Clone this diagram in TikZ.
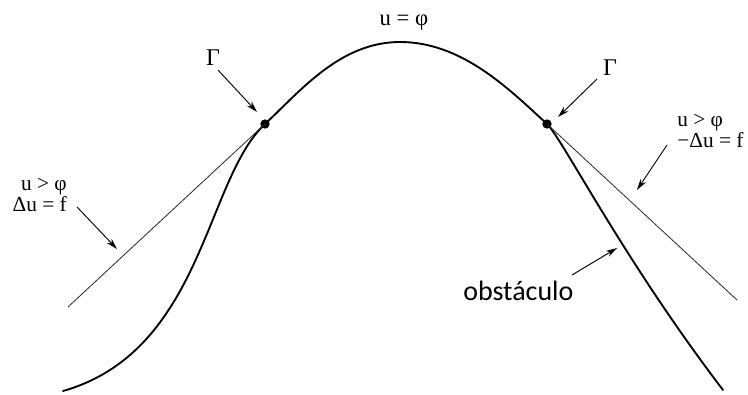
\documentclass[tikz,border=0pt]{standalone}
\usepackage{fontspec}
\setmainfont{Liberation Serif}
\newfontfamily\obsfont{Carlito}
\usetikzlibrary{arrows.meta}
\tikzset{
  obscurve/.style = {line width=1.4pt, line cap=round},
  tangline/.style = {line width=0.6pt, black!85},
  pointer/.style  = {-{Stealth[length=8.5pt,width=4.8pt]}, line width=0.7pt},
  gdot/.style     = {circle, fill=black, inner sep=0pt, minimum size=7pt},
  glab/.style     = {inner sep=0pt, font=\fontsize{18}{20}\selectfont},
  toplab/.style   = {inner sep=0pt, font=\fontsize{17}{20}\selectfont},
  sidelab/.style  = {inner sep=0pt, font=\fontsize{16}{18}\selectfont},
  obslab/.style   = {inner sep=0pt, font=\obsfont\fontsize{21}{24}\selectfont},
}

\begin{document}
\begin{tikzpicture}[x=0.75pt, y=0.75pt]
  \useasboundingbox (0,0) rectangle (748,394);

  % contact points and curve ends
  \node[gdot] (Gl) at (265,270) {};
  \node[gdot] (Gr) at (547,270) {};
  \coordinate (Bl)  at (63,3);
  \coordinate (Br)  at (723,4);
  \coordinate (Top) at (400,352);
  \coordinate (Tl)  at (68,87);
  \coordinate (Tr)  at (737,94);

  % obstacle
  \draw[obscurve] (Bl) .. controls (203,43) and (205,214) .. (Gl.center)
    .. controls (300,302.6) and (340,352) .. (Top)
    .. controls (462,352) and (509,305) .. (Gr.center)
    .. controls (562,256) and (623,135) .. (Br);

  % solution leaves the obstacle along the tangent
  \draw[tangline] (Gl.center) -- (Tl);
  \draw[tangline] (Gr.center) -- (Tr);

  % labels
  \node[toplab, anchor=base]      (Eq)    at (404,369) {u = φ};
  \node[glab, anchor=base]        (GlLab) at (213,329) {Γ};
  \node[glab, anchor=base]        (GrLab) at (610,319) {Γ};
  \node[sidelab, anchor=base east] (LfA)  at (67,204)  {u > φ};
  \node[sidelab, anchor=base east] (LfB)  at (67,183)  {Δu = f};
  \node[sidelab, anchor=base west] (RtA)  at (677,268) {u > φ};
  \node[sidelab, anchor=base west] (RtB)  at (677,247) {−Δu = f};
  \node[obslab, anchor=base west]  (Obs)  at (463,94)  {obstáculo};

  % pointers
  \coordinate (GlTail)  at (218,324); \coordinate (GlHead)  at (257,282);
  \coordinate (GrTail)  at (597,315); \coordinate (GrHead)  at (558,277);
  \coordinate (LfTail)  at (77,187);  \coordinate (LfHead)  at (117,145);
  \coordinate (RtTail)  at (667,249); \coordinate (RtHead)  at (637,204);
  \coordinate (ObsTail) at (572,119); \coordinate (ObsHead) at (617,146);

  \draw[pointer] (GlTail)  -- (GlHead);
  \draw[pointer] (GrTail)  -- (GrHead);
  \draw[pointer] (LfTail)  -- (LfHead);
  \draw[pointer] (RtTail)  -- (RtHead);
  \draw[pointer] (ObsTail) -- (ObsHead);
\end{tikzpicture}
\end{document}
